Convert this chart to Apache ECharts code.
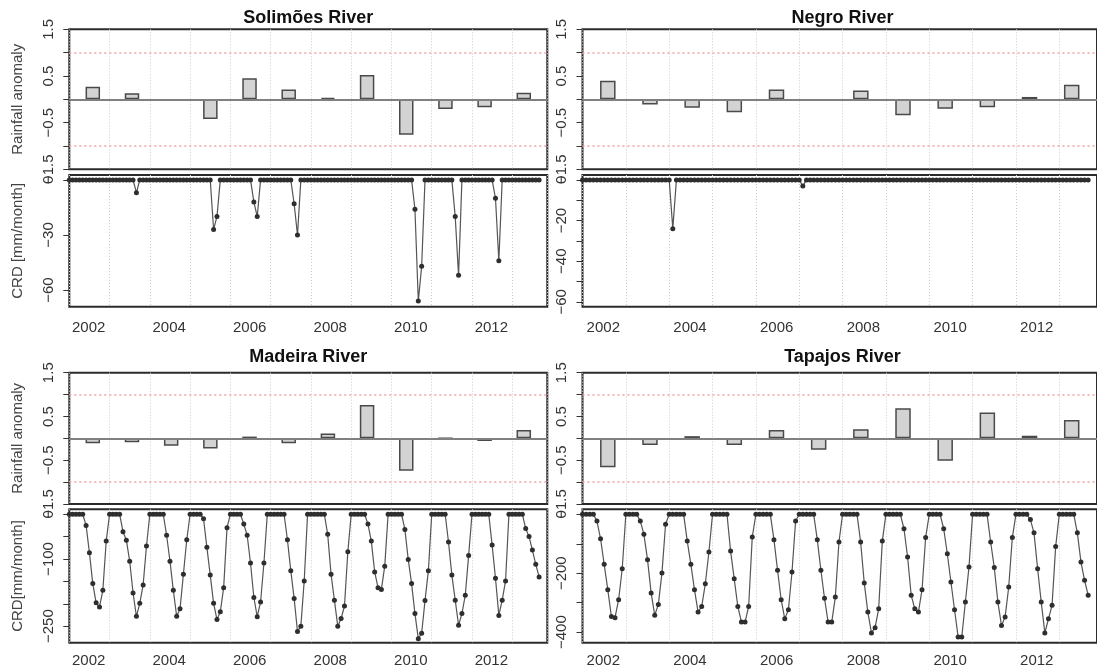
<!DOCTYPE html>
<html><head><meta charset="utf-8">
<script src="https://cdn.jsdelivr.net/npm/echarts@6/dist/echarts.min.js"></script>
<style>html,body{margin:0;padding:0;background:#fff}#c{width:1097px;height:672px}</style>
</head><body><div id="c"></div>
<script>
// ---------------- data ----------------
const barYears = [2002, 2003, 2004, 2005, 2006, 2007, 2008, 2009, 2010, 2011, 2012, 2013];
const solimoesRain = [0.27, 0.13, -0.02, -0.42, 0.45, 0.21, 0.03, 0.52, -0.76, -0.21, -0.17, 0.14];
const negroRain    = [0.40, -0.11, -0.18, -0.28, 0.21, -0.02, 0.19, -0.34, -0.20, -0.17, 0.05, 0.31];
const madeiraRain  = [-0.11, -0.09, -0.17, -0.23, 0.04, -0.11, 0.11, 0.76, -0.74, 0.00, -0.06, 0.19];
const tapajosRain  = [-0.66, -0.15, 0.05, -0.15, 0.19, -0.26, 0.21, 0.69, -0.51, 0.59, 0.06, 0.42];

const crdStartYear = 2001.52;   // decimal year of the first monthly CRD value
const crdEndYear = 2013.39;     // right end of the time axis
const labelYears = [2002, 2004, 2006, 2008, 2010, 2012];

const solimoesCRD = [
  0,0,0,0,0,0,0,0,0,0,0,0,
  0,0,0,0,0,0,0,0,-7,0,0,0,
  0,0,0,0,0,0,0,0,0,0,0,0,
  0,0,0,0,0,0,0,-27,-20,0,0,0,
  0,0,0,0,0,0,0,-12,-20,0,0,0,
  0,0,0,0,0,0,0,-13,-30,0,0,0,
  0,0,0,0,0,0,0,0,0,0,0,0,
  0,0,0,0,0,0,0,0,0,0,0,0,
  0,0,0,0,0,0,0,-16,-66,-47,0,0,
  0,0,0,0,0,0,0,-20,-52,0,0,0,
  0,0,0,0,0,0,0,-10,-44,0,0,0,
  0,0,0,0,0,0,0,0,0
];
const negroCRD = [
  0,0,0,0,0,0,0,0,0,0,0,0,
  0,0,0,0,0,0,0,0,0,0,0,0,
  0,-24,0,0,0,0,0,0,0,0,0,0,
  0,0,0,0,0,0,0,0,0,0,0,0,
  0,0,0,0,0,0,0,0,0,0,0,0,
  0,-3,0,0,0,0,0,0,0,0,0,0,
  0,0,0,0,0,0,0,0,0,0,0,0,
  0,0,0,0,0,0,0,0,0,0,0,0,
  0,0,0,0,0,0,0,0,0,0,0,0,
  0,0,0,0,0,0,0,0,0,0,0,0,
  0,0,0,0,0,0,0,0,0,0,0,0,
  0,0,0,0,0,0,0,0,0
];
const madeiraCRD = [
  0,0,0,0,0,-25,-86,-155,-198,-207,-170,-60,
  0,0,0,0,-39,-58,-105,-176,-228,-199,-158,-71,
  0,0,0,0,0,-47,-105,-170,-228,-211,-134,-57,
  0,0,0,0,-10,-74,-136,-199,-235,-218,-164,-30,
  0,0,0,0,-22,-47,-109,-186,-229,-196,-109,0,
  0,0,0,0,0,-57,-126,-188,-262,-250,-149,0,
  0,0,0,0,0,-45,-134,-192,-250,-233,-205,-84,
  0,0,0,0,0,-22,-60,-129,-164,-168,-116,0,
  0,0,0,0,-34,-101,-155,-222,-278,-266,-193,-126,
  0,0,0,0,0,-62,-136,-192,-248,-222,-181,-92,
  0,0,0,0,0,0,-69,-143,-226,-192,-149,0,
  0,0,0,0,-32,-50,-80,-112,-140
];
const tapajosCRD = [
  0,0,0,0,-23,-83,-170,-256,-347,-351,-290,-185,
  0,0,0,0,-23,-68,-154,-267,-343,-306,-199,-34,
  0,0,0,0,0,-91,-170,-256,-332,-313,-236,-128,
  0,0,0,0,0,-125,-219,-313,-366,-366,-313,-77,
  0,0,0,0,0,-86,-190,-290,-355,-324,-196,-23,
  0,0,0,0,0,-86,-190,-285,-366,-366,-281,-94,
  0,0,0,0,0,-94,-233,-332,-403,-385,-321,-91,
  0,0,0,0,0,-49,-145,-275,-321,-332,-256,-79,
  0,0,0,0,-49,-134,-230,-324,-417,-417,-298,-179,
  0,0,0,0,0,-94,-181,-298,-378,-349,-247,-79,
  0,0,0,0,-18,-63,-185,-298,-403,-355,-309,-109,
  0,0,0,0,0,-63,-162,-224,-275
];

const rainTicks = [-1.5, -1, -0.5, 0, 0.5, 1, 1.5];
const rainLabelTicks = [-1.5, -0.5, 0.5, 1.5];
const solimoesTicks = [0, -30, -60],  solimoesLabels = [0, -30, -60];
const negroTicks = [0, -10, -20, -30, -40, -50, -60], negroLabels = [0, -20, -40, -60];
const madeiraTicks = [0, -50, -100, -150, -200, -250], madeiraLabels = [0, -100, -250];
const tapajosTicks = [0, -100, -200, -300, -400], tapajosLabels = [0, -200, -400];

// ---------------- layout ----------------
const FONT = '"Liberation Sans", Arial, sans-serif';
const COLS = [{left: 69.3, width: 478}, {left: 582.5, width: 520}];
const ROWS = [
  {title: 18.3, barTop: 29.3, barH: 140, crdTop: 175, crdH: 131.7, labelGap: 14},
  {title: 356.7, barTop: 372.7, barH: 131.3, crdTop: 509.3, crdH: 133.4, labelGap: 11}
];

const panels = [
  {title: 'Solimões River', col: 0, row: 0, rain: solimoesRain, crd: solimoesCRD, yMin: -69.06, yMax: 2.66,
   ticks: solimoesTicks, labels: solimoesLabels, ylabBar: 'Rainfall anomaly', ylabCrd: 'CRD [mm/month]'},
  {title: 'Negro River', col: 1, row: 0, rain: negroRain, crd: negroCRD, yMin: -62.4, yMax: 2.4,
   ticks: negroTicks, labels: negroLabels, ylabBar: '', ylabCrd: ''},
  {title: 'Madeira River', col: 0, row: 1, rain: madeiraRain, crd: madeiraCRD, yMin: -287, yMax: 11,
   ticks: madeiraTicks, labels: madeiraLabels, ylabBar: 'Rainfall anomaly', ylabCrd: 'CRD[mm/month]'},
  {title: 'Tapajos River', col: 1, row: 1, rain: tapajosRain, crd: tapajosCRD, yMin: -436, yMax: 17,
   ticks: tapajosTicks, labels: tapajosLabels, ylabBar: '', ylabCrd: ''}
];

const minus = v => (v < 0 ? '\u2212' + Math.abs(v) : String(v));
const rainFmt = v => (v < 0 ? '\u2212' + Math.abs(v).toFixed(1) : v.toFixed(1));

const grid = [], xAxis = [], yAxis = [], series = [], graphic = [];
const frame = {show: true, borderColor: '#2b2b2b', borderWidth: 2, backgroundColor: 'transparent'};
const gridLineStyle = {color: '#cccccc', type: [1, 2], width: 1};
const tickLabel = {fontFamily: FONT, fontSize: 15, color: '#333'};

panels.forEach((p, i) => {
  const c = COLS[p.col], r = ROWS[p.row];
  grid.push(Object.assign({left: c.left, top: r.barTop, width: c.width, height: r.barH}, frame));
  grid.push(Object.assign({left: c.left, top: r.crdTop, width: c.width, height: r.crdH}, frame));
  const gb = 2 * i, gc = 2 * i + 1;

  // bar x scale (hidden)
  xAxis.push({type: 'value', gridIndex: gb, position: 'bottom', min: 2001.4, max: 2013.6,
    axisLine: {show: false}, axisTick: {show: false}, axisLabel: {show: false}, splitLine: {show: false}});
  // time scale on bar panel, only for dotted verticals
  xAxis.push({type: 'value', gridIndex: gb, position: 'top', min: crdStartYear, max: crdEndYear, interval: 1,
    axisLine: {show: false}, axisTick: {show: false}, axisLabel: {show: false},
    splitLine: {show: true, lineStyle: gridLineStyle}});
  // CRD time axis
  xAxis.push({type: 'value', gridIndex: gc, position: 'bottom', min: crdStartYear, max: crdEndYear, interval: 1,
    axisLine: {show: false}, axisTick: {show: false},
    axisLabel: Object.assign({show: true, customValues: labelYears, formatter: v => String(Math.round(v)), margin: r.labelGap}, tickLabel),
    splitLine: {show: true, lineStyle: gridLineStyle}});

  yAxis.push({type: 'value', gridIndex: gb, min: -1.5, max: 1.5, interval: 0.5,
    name: p.ylabBar, nameLocation: 'middle', nameGap: 44,
    nameTextStyle: {fontFamily: FONT, fontSize: 15, color: '#444'},
    axisLine: {show: false},
    axisTick: {show: true, length: 6, customValues: rainTicks, lineStyle: {color: '#333', width: 1}},
    axisLabel: Object.assign({show: true, rotate: 90, customValues: rainLabelTicks, formatter: rainFmt, margin: 13}, tickLabel),
    splitLine: {show: false}});
  yAxis.push({type: 'value', gridIndex: gc, min: p.yMin, max: p.yMax,
    name: p.ylabCrd, nameLocation: 'middle', nameGap: 44,
    nameTextStyle: {fontFamily: FONT, fontSize: 15, color: '#444'},
    axisLine: {show: false},
    axisTick: {show: true, length: 6, customValues: p.ticks, lineStyle: {color: '#333', width: 1}},
    axisLabel: Object.assign({show: true, rotate: 90, customValues: p.labels, formatter: minus, margin: 13}, tickLabel),
    splitLine: {show: false}});

  series.push({
    type: 'bar', xAxisIndex: 3 * i, yAxisIndex: gb, barWidth: p.col === 0 ? 14.5 : 15.5,
    data: barYears.map((y, j) => [y, p.rain[j]]),
    itemStyle: {color: '#d3d3d3', borderColor: '#4a4a4a', borderWidth: 1.5},
    markLine: {silent: true, symbol: ['none', 'none'], label: {show: false}, animation: false,
      data: [
        {yAxis: 0, lineStyle: {color: '#808080', width: 2, type: 'solid'}},
        {yAxis: 1, lineStyle: {color: '#f2a0a0', width: 1.5, type: [2, 3]}},
        {yAxis: -1, lineStyle: {color: '#f2a0a0', width: 1.5, type: [2, 3]}}
      ]}
  });
  series.push({
    type: 'line', xAxisIndex: 3 * i + 2, yAxisIndex: gc,
    data: p.crd.map((v, k) => [crdStartYear + k / 12, v]),
    symbol: 'circle', symbolSize: 5, showAllSymbol: true,
    lineStyle: {color: '#555', width: 1.2},
    itemStyle: {color: '#2e2e2e'}
  });

  graphic.push({type: 'text', x: c.left + c.width / 2, y: r.title,
    style: {text: p.title, font: 'bold 18px ' + FONT, fill: '#111', align: 'center', verticalAlign: 'middle',
      textAlign: 'center', textVerticalAlign: 'middle'}});
});

const chart = echarts.init(document.getElementById('c'), null, {renderer: 'canvas'});
chart.setOption({animation: false, backgroundColor: '#fff', grid, xAxis, yAxis, series, graphic});
</script></body></html>
